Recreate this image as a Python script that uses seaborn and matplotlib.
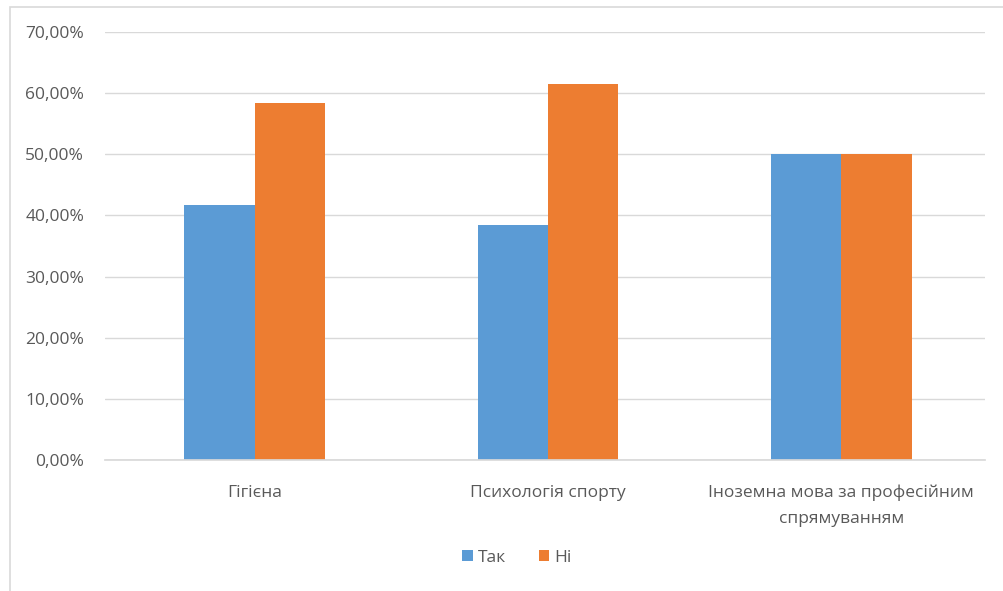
import matplotlib.pyplot as plt
import matplotlib.ticker as mticker
from matplotlib.patches import Rectangle
import seaborn as sns
import pandas as pd

categories = ["Гігієна", "Психологія спорту", "Іноземна мова за професійним\nспрямуванням"]
answers = ["Так", "Ні"]
tak_values = [0.4167, 0.3846, 0.50]
ni_values = [0.5833, 0.6154, 0.50]

df = pd.DataFrame({
    "category": categories * 2,
    "answer": ["Так"] * 3 + ["Ні"] * 3,
    "share": tak_values + ni_values,
})

sns.set_theme(style="white")
plt.rcParams["font.family"] = ["Open Sans", "DejaVu Sans"]
text_color = "#595959"
grid_color = "#D9D9D9"

fig = plt.figure(figsize=(10.04, 5.91), dpi=100)
ax = fig.add_axes([0.1046, 0.2217, 0.8765, 0.7242])

sns.barplot(data=df, x="category", y="share", hue="answer", hue_order=answers,
            palette=["#5B9BD5", "#ED7D31"], width=0.48, gap=0, saturation=1,
            linewidth=0, ax=ax)

ax.set_ylim(0, 0.7)
ax.set_xlim(-0.51, 2.49)
ax.yaxis.set_major_locator(mticker.MultipleLocator(0.1))
ax.yaxis.set_major_formatter(mticker.FuncFormatter(lambda v, p: f"{v * 100:.2f}%".replace(".", ",")))
ax.grid(axis="y", color=grid_color, linewidth=1)
ax.set_axisbelow(True)
for s in ["top", "right", "left"]:
    ax.spines[s].set_visible(False)
ax.spines["bottom"].set_color(grid_color)
ax.tick_params(axis="both", length=0, colors=text_color, labelsize=12.5)
ax.tick_params(axis="y", pad=15)
ax.tick_params(axis="x", pad=18)
for lbl in ax.get_xticklabels():
    lbl.set_linespacing(1.8)
ax.set_xlabel("")
ax.set_ylabel("")

leg = ax.legend(loc="center", bbox_to_anchor=(517 / 1004, 1 - 558 / 591),
                bbox_transform=fig.transFigure, ncol=2, frameon=False,
                handlelength=0.6, handleheight=0.6, handletextpad=0.3,
                columnspacing=1.9, fontsize=12.5)
for t in leg.get_texts():
    t.set_color(text_color)

fig.patches.append(Rectangle((10 / 1004, -0.1), 1.2, 1.1 - 7 / 591, transform=fig.transFigure,
                             fill=False, edgecolor=grid_color, linewidth=1.2))

fig.savefig("out.png", dpi=100)
